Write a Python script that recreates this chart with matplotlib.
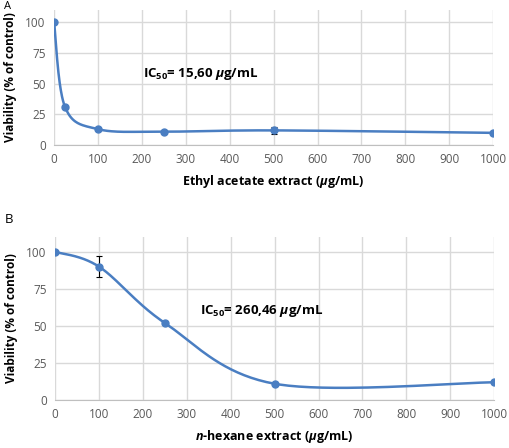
import numpy as np
import matplotlib
matplotlib.use("Agg")
import matplotlib.pyplot as plt

# data
conc_a = [0, 25, 100, 250, 500, 1000]
viab_a = [100, 31, 13, 11, 12, 10]
err_a = [0.5, 0.8, 1.0, 1.0, 3.0, 0.5]

conc_b = [0, 100, 250, 500, 1000]
viab_b = [100, 90, 52, 11, 12]
err_b = [0.5, 7.0, 1.0, 0.5, 0.5]

yticks = [0, 25, 50, 75, 100]
xticks = [0, 100, 200, 300, 400, 500, 600, 700, 800, 900, 1000]

blue = "#4a7ec2"
grid_c = "#d9d9d9"
tick_c = "#595959"

plt.rcParams['font.family'] = ['Open Sans', 'DejaVu Sans']
plt.rcParams['mathtext.fontset'] = 'custom'
plt.rcParams['mathtext.rm'] = 'Open Sans:bold'
plt.rcParams['mathtext.it'] = 'Open Sans:italic:bold'
plt.rcParams['mathtext.bf'] = 'Open Sans:bold'


def smooth(xs, ys, n=40):
    # excel-style smoothed line: cubic bezier through points
    p = np.column_stack([xs, ys]).astype(float)
    out = []
    for i in range(len(p) - 1):
        p0 = p[i]
        p3 = p[i + 1]
        prev = p[i - 1] if i > 0 else p[i]
        nxt = p[i + 2] if i + 2 < len(p) else p[i + 1]
        c1 = p0 + (p3 - prev) / 6
        c2 = p3 - (nxt - p0) / 6
        t = np.linspace(0, 1, n)[:, None]
        seg = (1 - t) ** 3 * p0 + 3 * (1 - t) ** 2 * t * c1 + 3 * (1 - t) * t ** 2 * c2 + t ** 3 * p3
        out.append(seg)
    out = np.vstack(out)
    return out[:, 0], out[:, 1]


def panel(ax, xs, ys, es, xlabel, label_text, lx, ly):
    sx, sy = smooth(xs, ys)
    ax.plot(sx, sy, color=blue, lw=1.8, zorder=3)
    ax.errorbar(xs, ys, yerr=es, fmt="none", ecolor="black", elinewidth=0.8,
                capsize=2.5, capthick=0.8, zorder=4)
    ax.plot(xs, ys, "o", color=blue, ms=5, zorder=5)
    ax.set_xlim(0, 1000)
    ax.set_ylim(0, 110)
    ax.set_xticks(xticks)
    ax.set_yticks(yticks)
    ax.grid(True, color=grid_c, lw=1)
    ax.set_axisbelow(True)
    for s in ["top", "right", "left"]:
        ax.spines[s].set_visible(False)
    ax.spines["bottom"].set_color("#bfbfbf")
    ax.tick_params(length=0, labelsize=8.5, labelcolor=tick_c, pad=6)
    ax.set_xlabel(xlabel, fontsize=9, fontweight="bold", labelpad=5)
    ax.set_ylabel("Viability (% of control)", fontsize=8.5, fontweight="bold", labelpad=6)
    ax.text(lx, ly, label_text, fontsize=9.5, fontweight="bold", va="center")


fig = plt.figure(figsize=(5.1, 4.48), dpi=100)
ax1 = fig.add_axes([0.106, 0.676, 0.861, 0.302])
ax2 = fig.add_axes([0.108, 0.107, 0.861, 0.364])

panel(ax1, conc_a, viab_a, err_a, r"Ethyl acetate extract ($\mathit{μ}$g/mL)",
      r"IC$_{50}$= 15,60 $\mathit{μ}$g/mL", 203, 58)
panel(ax2, conc_b, viab_b, err_b, r"$\mathit{n}$-hexane extract ($\mathit{μ}$g/mL)",
      r"IC$_{50}$= 260,46 $\mathit{μ}$g/mL", 330, 60)

fig.text(0.008, 0.998, "A", fontsize=8, va="top")
fig.text(0.01, 0.511, "B", fontsize=9.5, va="center")

fig.savefig("out.png", dpi=100)
